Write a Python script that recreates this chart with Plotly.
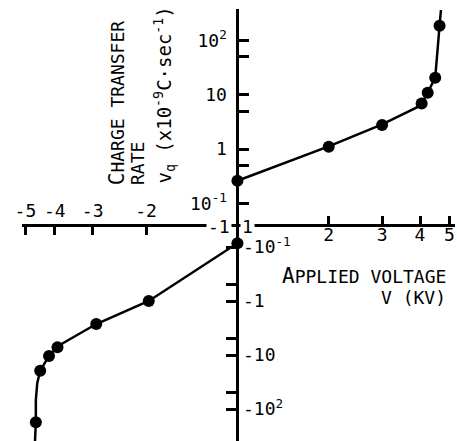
import plotly.graph_objects as go

# ---------------- data ----------------
# measured points, positive polarity (V in kV, rate in 1e-9 C/s)
v_pos = [1.0, 2.0, 3.0, 4.05, 4.24, 4.49, 4.64]
q_pos = [0.26, 1.1, 2.77, 6.9, 10.9, 20.6, 187]
# measured points, negative polarity
v_neg = [-1.0, -1.96, -2.92, -3.92, -4.18, -4.47, -4.62]
q_neg = [-0.085, -1.0, -2.67, -7.2, -10.4, -19.5, -176]
# drawn fitted curves
fit_v_pos = [1.0, 2.0, 3.0, 3.92, 4.05, 4.24, 4.49, 4.53, 4.57, 4.64, 4.69]
fit_q_pos = [0.26, 1.12, 2.85, 5.9, 6.9, 10.9, 20.6, 33, 67, 187, 363]
fit_v_neg = [-1.0, -1.96, -2.92, -3.80, -3.92, -4.18, -4.47, -4.57, -4.62, -4.62, -4.65]
fit_q_neg = [-0.085, -1.0, -2.67, -6.25, -7.2, -10.4, -19.5, -33, -68, -176, -400]

# tick values / labels
x_ticks = [2, 3, 4, 5]
x_pos_labels = ["2", "3", "4", "5"]
x_neg_labels = ["-2", "-3", "-4", "-5"]
y_ticks = [0.1, 1, 10, 100]
y_minor_ticks = [0.5, 5, 50]
y_pos_labels = ["10<sup>-1</sup>", "1", "10", "10<sup>2</sup>"]
y_neg_labels = ["-10<sup>-1</sup>", "-1", "-10", "-10<sup>2</sup>"]

# ---------------- layout geometry ----------------
W, H = 457, 441
FONT = "DejaVu Sans Mono, Liberation Mono, monospace"
AX_X = 234.0      # pixel column of the vertical axis
AX_Y = 225.0      # pixel row of the horizontal axis
DEC_X = 308.0     # px per decade, voltage
DEC_YP = 54.3     # px per decade, positive rate
DEC_YN = 54.0     # px per decade, negative rate
ONE_YP = 149.0    # pixel row of +1
ONE_YN = 301.0    # pixel row of -1

xpos = AX_X / W
ypos = 1 - AX_Y / H


def px(x):
    return x / W


def py(y):
    return 1 - y / H


fig = go.Figure()
line_style = dict(color="black", width=2.5)
mk = dict(color="black", size=12)

fig.add_trace(go.Scatter(x=fit_v_pos, y=fit_q_pos, mode="lines", line=line_style,
                         xaxis="x", yaxis="y", hoverinfo="skip"))
fig.add_trace(go.Scatter(x=v_pos, y=q_pos, mode="markers", marker=mk,
                         xaxis="x", yaxis="y", cliponaxis=False))
fig.add_trace(go.Scatter(x=[abs(v) for v in fit_v_neg], y=[abs(q) for q in fit_q_neg],
                         mode="lines", line=line_style, xaxis="x2", yaxis="y2",
                         hoverinfo="skip"))
fig.add_trace(go.Scatter(x=[abs(v) for v in v_neg], y=[abs(q) for q in q_neg],
                         mode="markers", marker=mk, xaxis="x2", yaxis="y2",
                         cliponaxis=False))

tickfont = dict(family=FONT, size=18, color="black")
common = dict(type="log", showline=True, linewidth=3, linecolor="black",
              ticks="inside", tickwidth=2.5, tickcolor="black",
              showgrid=False, zeroline=False, tickfont=tickfont, anchor="free")
yminor = dict(tickmode="array", tickvals=y_minor_ticks, ticks="inside",
              ticklen=10, tickwidth=2.5, tickcolor="black", showgrid=False)

fig.update_layout(
    width=W, height=H,
    margin=dict(l=0, r=0, t=0, b=0),
    paper_bgcolor="white", plot_bgcolor="white",
    showlegend=False,
    xaxis=dict(common, domain=[xpos, px(455)], range=[0, (455 - AX_X) / DEC_X],
               position=ypos, side="bottom", ticklen=8, ticklabelstandoff=-8,
               tickvals=x_ticks, ticktext=x_pos_labels),
    xaxis2=dict(common, domain=[px(15), xpos], range=[(AX_X - 15) / DEC_X, 0],
                position=ypos, side="top", ticklen=8,
                tickvals=x_ticks, ticktext=x_neg_labels),
    yaxis=dict(common, domain=[ypos, py(9)],
               range=[(ONE_YP - AX_Y) / DEC_YP, (ONE_YP - 9) / DEC_YP],
               position=xpos, side="left", ticklen=10, ticklabelstandoff=6,
               tickvals=y_ticks, ticktext=y_pos_labels, minor=yminor),
    yaxis2=dict(common, domain=[0, ypos],
                range=[(H - ONE_YN) / DEC_YN, (AX_Y - ONE_YN) / DEC_YN],
                position=xpos, side="right", ticklen=10,
                tickvals=y_ticks, ticktext=y_neg_labels, minor=yminor),
)

afont = dict(family=FONT, size=18, color="black")
big = "<span style='font-size:21px'>{}</span>"
annotations = [
    dict(text="-1", x=px(215), y=py(226), xanchor="center", yanchor="middle",
         bgcolor="white"),
    dict(text="1", x=px(237), y=py(226), xanchor="left", yanchor="middle",
         bgcolor="white"),
    dict(text=big.format("C") + "HARGE TRANSFER", x=px(112.5), y=py(187),
         xanchor="center", yanchor="bottom", textangle=-90),
    dict(text="RATE", x=px(132.5), y=py(187), xanchor="center", yanchor="bottom",
         textangle=-90),
    dict(text="v<sub>q</sub> (x10<sup>-9</sup>C·sec<sup>-1</sup>)", x=px(159.5),
         y=py(186), xanchor="center", yanchor="bottom", textangle=-90,
         font=dict(family=FONT, size=19, color="black")),
    dict(text=big.format("A") + "PPLIED VOLTAGE", x=px(448), y=py(276),
         xanchor="right", yanchor="middle"),
    dict(text="V (KV)", x=px(448), y=py(297.5), xanchor="right", yanchor="middle"),
]
for a in annotations:
    a.setdefault("font", afont)
    fig.add_annotation(xref="paper", yref="paper", showarrow=False, **a)

fig.write_html("out.html", config={"displayModeBar": False},
               post_script="document.body.style.margin='0';document.body.style.overflow='hidden';")
